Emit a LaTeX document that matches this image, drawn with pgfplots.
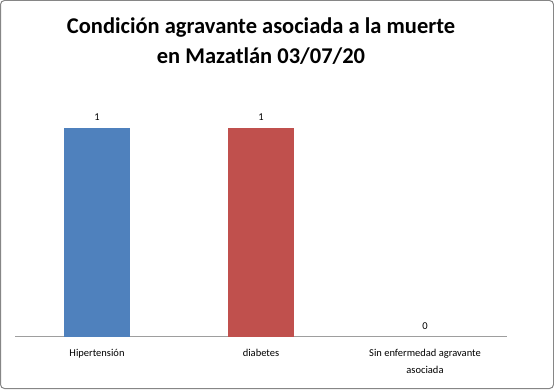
\documentclass[border=0pt]{standalone}
\usepackage{fontspec}
\setmainfont{Carlito}
\usepackage{pgfplots}
\pgfplotsset{compat=1.18}
\definecolor{cblue}{HTML}{4F81BD}
\definecolor{cred}{HTML}{C0504D}
\definecolor{frame}{HTML}{868686}
\begin{document}
\begin{tikzpicture}[x=1pt,y=1pt]
\draw[frame, line width=1pt, rounded corners=4pt] (0.5,0.5) rectangle (553.5,388.5);
\node[font=\bfseries\fontsize{22.5}{30}\selectfont, align=center, anchor=center] at (261,348) {Condición agravante asociada a la muerte\\en Mazatlán 03/07/20};
\begin{axis}[at={(15pt,52.3pt)}, anchor=south west,
  scale only axis, width=492pt, height=250.4pt,
  xmin=-0.5, xmax=2.5, ymin=0, ymax=1.2,
  axis x line*=bottom, axis y line=none,
  x axis line style={draw=frame!80, line width=0.8pt, -},
  xtick={0,1,2}, xticklabels={Hipertensión, diabetes, {Sin enfermedad agravante\\asociada}},
  xticklabel style={align=center, font=\fontsize{10.5}{17}\selectfont, anchor=north, yshift=-9pt},
  major tick length=0pt,
  ytick=\empty,
  ybar, bar width=66pt,
  nodes near coords,
  every node near coord/.append style={font=\fontsize{10.5}{12}\selectfont, color=black, yshift=4pt},
  /pgf/number format/assume math mode=true,
  clip=false,
]
\addplot[bar shift=0pt, fill=cblue, draw=none] coordinates {(0,1)};
\addplot[bar shift=0pt, fill=cred, draw=none] coordinates {(1,1)};
\addplot[bar shift=0pt, fill=none, draw=none] coordinates {(2,0)};
\end{axis}
\end{tikzpicture}
\end{document}
